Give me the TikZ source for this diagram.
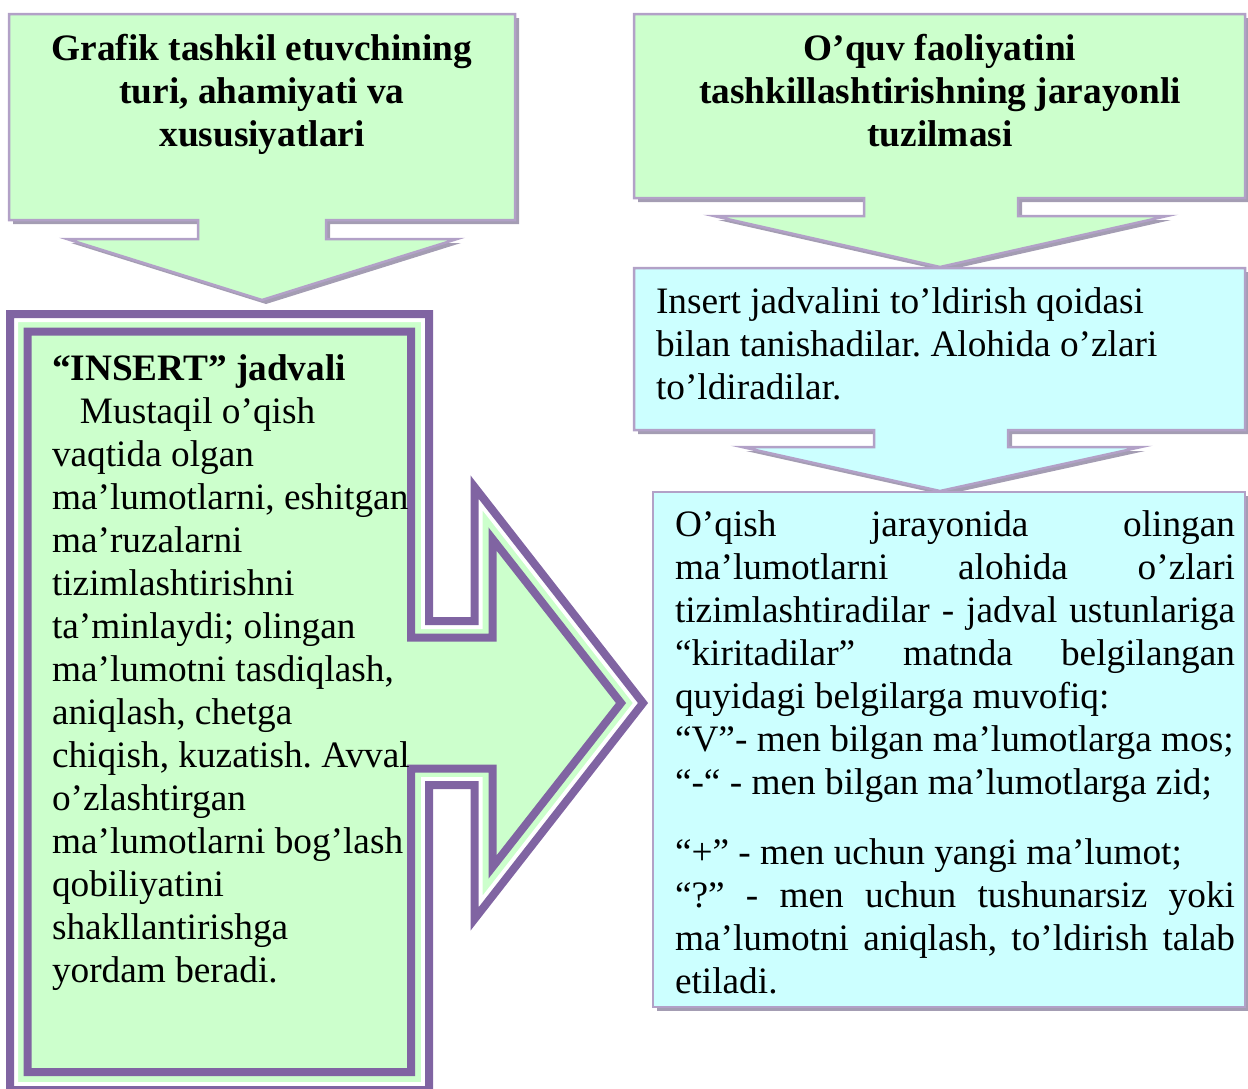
\documentclass[tikz,border=0pt]{standalone}
\usepackage{fontspec}
\setmainfont{Liberation Serif}

\definecolor{edgepurple}{HTML}{B2A1C7}
\definecolor{shadepurple}{HTML}{A49DB3}
\definecolor{deeppurple}{HTML}{8064A2}
\definecolor{palegreen}{HTML}{CCFFCC}
\definecolor{palecyan}{HTML}{CCFFFF}

\tikzset{
  boxedge/.style={draw=edgepurple, line width=2.5pt, line join=miter},
  boxshadow/.style={fill=shadepurple, draw=none, shift={(4,4)}},
  panelline/.style={draw=deeppurple, line width=8pt, line join=miter},
  txt/.style={inner sep=0pt, outer sep=0pt, font=\fontsize{37.3}{43}\selectfont\frenchspacing},
}

% box-with-down-arrow outlines
\newcommand\calloutA{(9,14) -- (515,14) -- (515,220) -- (326,220) -- (326,239) -- (457,239) -- (262,300) -- (67,239) -- (198,239) -- (198,220) -- (9,220) -- cycle}
\newcommand\calloutB{(634,14) -- (1245,14) -- (1245,198) -- (1018,198) -- (1018,216) -- (1167,216) -- (940,267) -- (714,216) -- (864,216) -- (864,198) -- (634,198) -- cycle}
\newcommand\calloutC{(634,268) -- (1245,268) -- (1245,430) -- (1008,430) -- (1008,447) -- (1141,447) -- (940,491) -- (742,447) -- (874,447) -- (874,430) -- (634,430) -- cycle}
% right-arrow panel: outer and inner border lines
\newcommand\panelOuter{(10,314) -- (429,314) -- (429,621) -- (474.5,621) -- (474.5,487) -- (643,703) -- (474.5,919) -- (474.5,785) -- (429,785) -- (429,1090) -- (10,1090) -- cycle}
\newcommand\panelInner{(27.5,331.5) -- (411,331.5) -- (411,637.5) -- (492.5,637.5) -- (492.5,539) -- (621,703) -- (492.5,867) -- (492.5,768.5) -- (411,768.5) -- (411,1072) -- (27.5,1072) -- cycle}

\newcommand\jline[1]{\hbox to \linewidth{#1}}
\newcommand\rline[1]{\hbox to \linewidth{#1\hfil}}

\begin{document}
\begin{tikzpicture}[x=1pt, y=-1pt]
\useasboundingbox (0,0) rectangle (1248,1088);

% left panel with double purple border
\fill[palegreen] \panelOuter;
\begin{scope}
  \clip \panelOuter;
  \draw[white, line width=16pt, line join=miter] \panelOuter;
\end{scope}
\draw[panelline] \panelOuter;
\draw[panelline, fill=palegreen] \panelInner;

% top callouts
\fill[boxshadow] \calloutA;
\draw[boxedge, fill=palegreen] \calloutA;
\fill[boxshadow] \calloutB;
\draw[boxedge, fill=palegreen] \calloutB;

% middle callout
\fill[boxshadow] \calloutC;
\draw[boxedge, fill=palecyan] \calloutC;

% lower box
\fill[boxshadow] (653,492) rectangle (1245,1007);
\draw[boxedge, fill=palecyan] (653,492) rectangle (1245,1007);

% texts
\node[txt, anchor=base] (titleA) at (262,60) {\parbox[t]{490pt}{\centering\bfseries
  Grafik tashkil etuvchining\\ turi, ahamiyati va\\ xususiyatlari}};
\node[txt, anchor=base] (titleB) at (940,60) {\parbox[t]{590pt}{\centering\bfseries
  O’quv faoliyatini\\ tashkillashtirishning jarayonli\\ tuzilmasi}};
\node[txt, anchor=base west] (textC) at (656,313) {\parbox[t]{580pt}{\raggedright
  Insert jadvalini to’ldirish qoidasi\\ bilan tanishadilar. Alohida o’zlari\\ to’ldiradilar.}};
\node[txt, anchor=base west] (textL) at (52,380) {\parbox[t]{420pt}{\raggedright
  \textbf{“INSERT” jadvali}\\
  \hspace*{28pt}Mustaqil o’qish\\
  vaqtida olgan\\
  ma’lumotlarni, eshitgan\\
  ma’ruzalarni\\
  tizimlashtirishni\\
  ta’minlaydi; olingan\\
  ma’lumotni tasdiqlash,\\
  aniqlash, chetga\\
  chiqish, kuzatish. Avval\\
  o’zlashtirgan\\
  ma’lumotlarni bog’lash\\
  qobiliyatini\\
  shakllantirishga\\
  yordam beradi.}};
\node[txt, anchor=base west] (textD) at (675,536) {\parbox[t]{560pt}{\setlength\parindent{0pt}%
  \jline{O’qish jarayonida olingan}
  \jline{ma’lumotlarni alohida o’zlari}
  \jline{tizimlashtiradilar - jadval ustunlariga}
  \jline{“kiritadilar” matnda belgilangan}
  \rline{quyidagi belgilarga muvofiq:}
  \rline{“V”- men bilgan ma’lumotlarga mos;}
  \rline{“-“ - men bilgan ma’lumotlarga zid;}
  \vskip 27pt
  \rline{“+” - men uchun yangi ma’lumot;}
  \jline{“?” - men uchun tushunarsiz yoki}
  \jline{ma’lumotni aniqlash, to’ldirish talab}
  \rline{etiladi.}}};
\end{tikzpicture}
\end{document}
